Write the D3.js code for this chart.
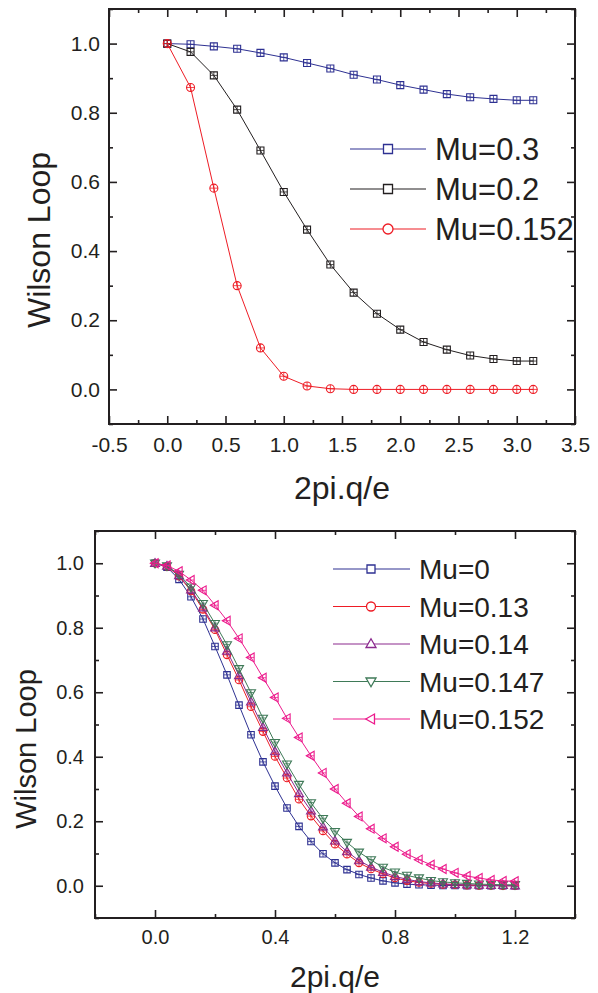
<!DOCTYPE html>
<html><head><meta charset="utf-8">
<script src="https://cdn.jsdelivr.net/npm/d3@7"></script>
<style>
body{margin:0;background:#fff;}
svg{display:block;}
text{font-family:"Liberation Sans",Arial,Helvetica,sans-serif;fill:#231f20;}
</style>
</head><body>
<svg id="c" width="598" height="993"></svg>
<script>
// ---------- DATA: top chart ----------
const topX = [0,0.2,0.4,0.6,0.8,1.0,1.2,1.4,1.6,1.8,2.0,2.2,2.4,2.6,2.8,3.0,3.1416];
const topMu03  = [1.0,0.998,0.992,0.985,0.973,0.960,0.944,0.928,0.910,0.896,0.880,0.867,0.854,0.845,0.840,0.836,0.836];
const topMu02  = [1.0,0.976,0.908,0.809,0.691,0.571,0.462,0.361,0.280,0.219,0.173,0.137,0.115,0.098,0.088,0.082,0.082];
const topMu0152= [1.0,0.873,0.582,0.300,0.120,0.038,0.010,0.002,0,0,0,0,0,0,0,0,0];
const topLegend = ["Mu=0.3","Mu=0.2","Mu=0.152"];
const topXTicks = [-0.5,0,0.5,1.0,1.5,2.0,2.5,3.0,3.5];
const topXTickLabels = ["-0.5","0.0","0.5","1.0","1.5","2.0","2.5","3.0","3.5"];
const topXMinor = [-0.25,0.25,0.75,1.25,1.75,2.25,2.75,3.25];
const topYTicks = [0,0.2,0.4,0.6,0.8,1.0];
const topYTickLabels = ["0.0","0.2","0.4","0.6","0.8","1.0"];
const topYMinor = [-0.1,0.1,0.3,0.5,0.7,0.9,1.1];

// ---------- DATA: bottom chart ----------
const botX = [0,0.04,0.08,0.12,0.16,0.20,0.24,0.28,0.32,0.36,0.40,0.44,0.48,0.52,0.56,0.60,0.64,0.68,0.72,0.76,0.80,0.84,0.88,0.92,0.96,1.00,1.04,1.08,1.12,1.16,1.20];
const botMu0    = [1.0,0.988,0.95,0.896,0.827,0.742,0.654,0.56,0.468,0.384,0.309,0.241,0.184,0.137,0.099,0.071,0.05,0.035,0.024,0.015,0.009,0.005,0.003,0.002,0.001,0.001,0,0,0,0,0];
const botMu013  = [1.0,0.99,0.96,0.914,0.857,0.794,0.716,0.638,0.555,0.478,0.401,0.334,0.268,0.216,0.17,0.129,0.098,0.071,0.052,0.037,0.024,0.016,0.01,0.007,0.004,0.003,0.002,0.001,0.001,0,0];
const botMu014  = [1.0,0.991,0.962,0.918,0.862,0.80,0.728,0.652,0.57,0.491,0.416,0.35,0.286,0.232,0.183,0.139,0.106,0.078,0.058,0.042,0.029,0.02,0.013,0.009,0.006,0.004,0.003,0.002,0.001,0.001,0];
const botMu0147 = [1.0,0.992,0.965,0.926,0.875,0.813,0.747,0.673,0.598,0.519,0.444,0.377,0.314,0.257,0.208,0.168,0.134,0.104,0.08,0.057,0.042,0.032,0.024,0.016,0.012,0.009,0.007,0.005,0.004,0.003,0.003];
const botMu0152 = [1.0,0.993,0.975,0.948,0.916,0.87,0.822,0.767,0.708,0.645,0.584,0.519,0.46,0.403,0.35,0.30,0.256,0.215,0.177,0.147,0.121,0.098,0.081,0.065,0.052,0.04,0.03,0.024,0.018,0.015,0.014];
const botLegend = ["Mu=0","Mu=0.13","Mu=0.14","Mu=0.147","Mu=0.152"];
const botXTicks = [0,0.4,0.8,1.2];
const botXTickLabels = ["0.0","0.4","0.8","1.2"];
const botXMinor = [-0.2,0.2,0.6,1.0,1.4];
const botYTicks = [0,0.2,0.4,0.6,0.8,1.0];
const botYTickLabels = ["0.0","0.2","0.4","0.6","0.8","1.0"];
const botYMinor = [-0.1,0.1,0.3,0.5,0.7,0.9,1.1];

const axisTitleY = "Wilson Loop";
const axisTitleX = "2pi.q/e";

// ---------- drawing ----------
const svg = d3.select("#c");
const INK = "#231f20";

function markerPath(type, s){
  const r = s/2;
  if(type==="square") return `M${-r},${-r}H${r}V${r}H${-r}Z`;
  if(type==="circle") return `M${-r},0A${r},${r} 0 1,0 ${r},0A${r},${r} 0 1,0 ${-r},0Z`;
  const h = s*0.87;
  if(type==="up") return `M0,${-h*0.6}L${r},${h*0.4}L${-r},${h*0.4}Z`;
  if(type==="down") return `M0,${h*0.6}L${r},${-h*0.4}L${-r},${-h*0.4}Z`;
  if(type==="left") return `M${-h*0.6},0L${h*0.4},${-r}L${h*0.4},${r}Z`;
}
function crossPath(type, s){
  const r = s/2;
  if(type==="square"||type==="circle") return `M${-r},0H${r}M0,${-r}V${r}`;
  const h = s*0.87;
  if(type==="up") return `M0,${-h*0.6}V${h*0.4}M${-r*0.6},${h*0.05}H${r*0.6}`;
  if(type==="down") return `M0,${h*0.6}V${-h*0.4}M${-r*0.6},${-h*0.05}H${r*0.6}`;
  if(type==="left") return `M${-h*0.6},0H${h*0.4}M${-h*0.05},${-r*0.6}V${r*0.6}`;
}

function chart(cfg){
  const {L,R,T,B,xDom,yDom} = cfg;
  const x = d3.scaleLinear().domain(xDom).range([L,R]);
  const y = d3.scaleLinear().domain(yDom).range([B,T]);
  const g = svg.append("g");

  const addAxis = (axis, tr, fs) => {
    const a = g.append("g").attr("transform", tr).call(axis);
    a.select(".domain").remove();
    a.selectAll(".tick line").attr("stroke", INK).attr("stroke-width", 1.6);
    a.selectAll("text").attr("font-size", fs).attr("fill", INK)
      .style("font-family", '"Liberation Sans",Arial,sans-serif');
    return a;
  };
  const lab = (vals, labels) => (d)=>labels[vals.indexOf(d)];
  addAxis(d3.axisBottom(x).tickValues(cfg.xTicks).tickFormat(lab(cfg.xTicks,cfg.xLabels)).tickSizeInner(-8).tickSizeOuter(0).tickPadding(cfg.xPad), `translate(0,${B})`, cfg.tickFs);
  addAxis(d3.axisBottom(x).tickValues(cfg.xMinor).tickFormat("").tickSizeInner(-4).tickSizeOuter(0), `translate(0,${B})`, cfg.tickFs);
  addAxis(d3.axisTop(x).tickValues(cfg.xTicks).tickFormat("").tickSizeInner(-8).tickSizeOuter(0), `translate(0,${T})`, cfg.tickFs);
  addAxis(d3.axisTop(x).tickValues(cfg.xMinor).tickFormat("").tickSizeInner(-4).tickSizeOuter(0), `translate(0,${T})`, cfg.tickFs);
  addAxis(d3.axisLeft(y).tickValues(cfg.yTicks).tickFormat(lab(cfg.yTicks,cfg.yLabels)).tickSizeInner(-8).tickSizeOuter(0).tickPadding(cfg.yPad), `translate(${L},0)`, cfg.tickFs);
  addAxis(d3.axisLeft(y).tickValues(cfg.yMinor).tickFormat("").tickSizeInner(-4).tickSizeOuter(0), `translate(${L},0)`, cfg.tickFs);
  addAxis(d3.axisRight(y).tickValues(cfg.yTicks).tickFormat("").tickSizeInner(-8).tickSizeOuter(0), `translate(${R},0)`, cfg.tickFs);
  addAxis(d3.axisRight(y).tickValues(cfg.yMinor).tickFormat("").tickSizeInner(-4).tickSizeOuter(0), `translate(${R},0)`, cfg.tickFs);

  g.append("rect").attr("x",L).attr("y",T).attr("width",R-L).attr("height",B-T)
    .attr("fill","none").attr("stroke",INK).attr("stroke-width",2);

  const line = d3.line().x(d=>x(d[0])).y(d=>y(d[1]));
  cfg.series.forEach(s=>{
    const pts = cfg.xs.map((v,i)=>[v,s.vals[i]]);
    g.append("path").attr("d",line(pts)).attr("fill","none").attr("stroke",s.color).attr("stroke-width",1);
    const mg = g.append("g");
    pts.forEach(p=>{
      const m = mg.append("g").attr("transform",`translate(${x(p[0])},${y(p[1])})`);
      m.append("path").attr("d",markerPath(s.shape,s.ms)).attr("fill","none").attr("stroke",s.color).attr("stroke-width",1.1);
      m.append("path").attr("d",crossPath(s.shape,s.ms)).attr("fill","none").attr("stroke",s.color).attr("stroke-width",0.8);
    });
  });

  const lg = cfg.legend;
  cfg.series.forEach((s,i)=>{
    const yy = lg.y0 + i*lg.dy;
    g.append("line").attr("x1",lg.x1).attr("x2",lg.x2).attr("y1",yy).attr("y2",yy).attr("stroke",s.color).attr("stroke-width",1.2);
    g.append("path").attr("transform",`translate(${lg.xm},${yy})`).attr("d",markerPath(s.shape,s.lms))
      .attr("fill","#fff").attr("stroke",s.color).attr("stroke-width",1.3);
    g.append("text").attr("x",lg.xt).attr("y",yy).attr("dy","0.36em").attr("font-size",lg.fs).text(s.name);
  });

  g.append("text").attr("x",(L+R)/2).attr("y",cfg.xTitleY).attr("text-anchor","middle").attr("font-size",cfg.xTitleFs).text(axisTitleX);
  g.append("text").attr("transform",`translate(${cfg.yTitleX},${cfg.yTitleCY}) rotate(-90)`).attr("text-anchor","middle").attr("font-size",cfg.yTitleFs).text(axisTitleY);
}

chart({
  L:109,R:575,T:9,B:424,xDom:[-0.5,3.5],yDom:[-0.1,1.1],
  xTicks:topXTicks,xLabels:topXTickLabels,xMinor:topXMinor,
  yTicks:topYTicks,yLabels:topYTickLabels,yMinor:topYMinor,
  tickFs:21,xPad:13,yPad:9,
  xs:topX,
  series:[
    {name:topLegend[0],vals:topMu03,color:"#2e3192",shape:"square",ms:7,lms:9},
    {name:topLegend[1],vals:topMu02,color:"#231f20",shape:"square",ms:7,lms:9},
    {name:topLegend[2],vals:topMu0152,color:"#ee1c25",shape:"circle",ms:8,lms:10}
  ],
  legend:{x1:350,x2:426,xm:388,xt:435,y0:149,dy:40,fs:31},
  xTitleFs:32,yTitleFs:32,xTitleY:499,yTitleX:50,yTitleCY:240
});

chart({
  L:95,R:575,T:531,B:918,xDom:[-0.2,1.4],yDom:[-0.1,1.1],
  xTicks:botXTicks,xLabels:botXTickLabels,xMinor:botXMinor,
  yTicks:botYTicks,yLabels:botYTickLabels,yMinor:botYMinor,
  tickFs:20,xPad:12,yPad:11,
  xs:botX,
  series:[
    {name:botLegend[0],vals:botMu0,color:"#2e3192",shape:"square",ms:6.5,lms:8},
    {name:botLegend[1],vals:botMu013,color:"#ee1c25",shape:"circle",ms:7.5,lms:9},
    {name:botLegend[2],vals:botMu014,color:"#8b2a8e",shape:"up",ms:9,lms:10},
    {name:botLegend[3],vals:botMu0147,color:"#3f7a58",shape:"down",ms:9,lms:10},
    {name:botLegend[4],vals:botMu0152,color:"#ec1a8c",shape:"left",ms:9,lms:10}
  ],
  legend:{x1:333,x2:410,xm:371,xt:419,y0:569,dy:37.5,fs:28},
  xTitleFs:30,yTitleFs:29,xTitleY:987,yTitleX:36,yTitleCY:749
});
</script>
</body></html>
